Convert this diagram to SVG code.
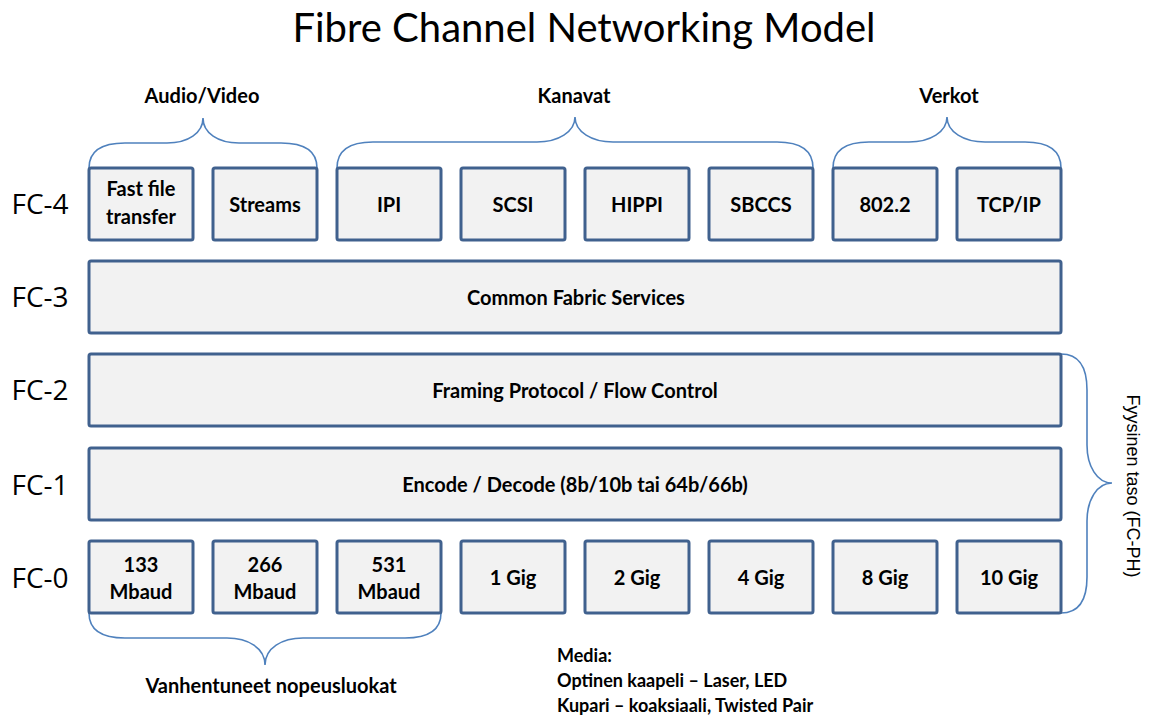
<svg xmlns="http://www.w3.org/2000/svg" width="1151" height="717" viewBox="0 0 1151 717">
<style>
.box{fill:#f2f2f2;stroke:#40618e;stroke-width:3}
.brace{fill:none;stroke:#4f81bd;stroke-width:1.6}
.t{font-family:Lato,"Liberation Sans",sans-serif;font-weight:bold;font-size:20px;fill:#000;text-anchor:middle}
.lay{font-family:"Open Sans","Liberation Sans",sans-serif;font-size:28px;fill:#000;text-anchor:middle}
.title{font-family:Lato,"Liberation Sans",sans-serif;font-size:40px;fill:#000;text-anchor:middle}
.side{font-family:"Liberation Sans",sans-serif;font-size:18px;fill:#000;text-anchor:middle}
.media{font-family:Lato,"Liberation Sans",sans-serif;font-weight:bold;font-size:18px;fill:#000}
</style>
<rect width="1151" height="717" fill="#ffffff"/>
<text class="title" x="584" y="42">Fibre Channel Networking Model</text>
<g id="layer-labels">
<text class="lay" x="40" y="214">FC-4</text>
<text class="lay" x="40" y="307">FC-3</text>
<text class="lay" x="40" y="400">FC-2</text>
<text class="lay" x="40" y="495">FC-1</text>
<text class="lay" x="40" y="588">FC-0</text>
</g>
<g id="connectors">
<path class="brace" d="M89,168 C89,150 102,143 125,143 L167,143 C188,143 203,133 203,118 C203,133 218,143 239,143 L281,143 C304,143 317,150 317,168"/>
<path class="brace" d="M337,168 C337,150 350,142 373,142 L537,142 C558,142 575,132 575,117 C575,132 592,142 613,142 L777,142 C800,142 813,150 813,168"/>
<path class="brace" d="M833,168 C833,150 846,142 869,142 L909,142 C930,142 947,132 947,117 C947,132 964,142 985,142 L1025,142 C1048,142 1061,150 1061,168"/>
<path class="brace" d="M89,613 C89,631 102,638 125,638 L227,638 C248,638 265,648 265,665 C265,648 282,638 303,638 L405,638 C428,638 441,631 441,613"/>
<path class="brace" d="M1061,354 C1079,354 1087,367 1087,390 L1087,445 C1087,466 1097,483 1112,483 C1097,483 1087,500 1087,521 L1087,577 C1087,600 1079,613 1061,613"/>
</g>
<g id="brace-labels">
<text class="t" x="202" y="103">Audio/Video</text>
<text class="t" x="574" y="103">Kanavat</text>
<text class="t" x="949" y="103">Verkot</text>
<text class="t" x="271" y="693">Vanhentuneet nopeusluokat</text>
<text class="side" transform="translate(1127,486) rotate(90)">Fyysinen taso (FC-PH)</text>
</g>
<g id="fc4-fastfile"><rect class="box" x="89" y="168" width="104" height="72" rx="2"/><text class="t" x="141" y="196">Fast file</text><text class="t" x="141" y="224">transfer</text></g>
<g id="fc4-streams"><rect class="box" x="213" y="168" width="104" height="72" rx="2"/><text class="t" x="265" y="212">Streams</text></g>
<g id="fc4-ipi"><rect class="box" x="337" y="168" width="104" height="72" rx="2"/><text class="t" x="389" y="212">IPI</text></g>
<g id="fc4-scsi"><rect class="box" x="461" y="168" width="104" height="72" rx="2"/><text class="t" x="513" y="212">SCSI</text></g>
<g id="fc4-hippi"><rect class="box" x="585" y="168" width="104" height="72" rx="2"/><text class="t" x="637" y="212">HIPPI</text></g>
<g id="fc4-sbccs"><rect class="box" x="709" y="168" width="104" height="72" rx="2"/><text class="t" x="761" y="212">SBCCS</text></g>
<g id="fc4-8022"><rect class="box" x="833" y="168" width="104" height="72" rx="2"/><text class="t" x="885" y="212">802.2</text></g>
<g id="fc4-tcpip"><rect class="box" x="957" y="168" width="104" height="72" rx="2"/><text class="t" x="1009" y="212">TCP/IP</text></g>
<g id="fc3"><rect class="box" x="89" y="261" width="972" height="72" rx="2"/><text class="t" x="576" y="305">Common Fabric Services</text></g>
<g id="fc2"><rect class="box" x="89" y="354" width="972" height="72" rx="2"/><text class="t" x="575" y="398">Framing Protocol / Flow Control</text></g>
<g id="fc1"><rect class="box" x="89" y="448" width="972" height="72" rx="2"/><text class="t" x="575" y="492">Encode / Decode (8b/10b tai 64b/66b)</text></g>
<g id="fc0-133"><rect class="box" x="89" y="541" width="104" height="72" rx="2"/><text class="t" x="141" y="572">133</text><text class="t" x="141" y="599">Mbaud</text></g>
<g id="fc0-266"><rect class="box" x="213" y="541" width="104" height="72" rx="2"/><text class="t" x="265" y="572">266</text><text class="t" x="265" y="599">Mbaud</text></g>
<g id="fc0-531"><rect class="box" x="337" y="541" width="104" height="72" rx="2"/><text class="t" x="389" y="572">531</text><text class="t" x="389" y="599">Mbaud</text></g>
<g id="fc0-1g"><rect class="box" x="461" y="541" width="104" height="72" rx="2"/><text class="t" x="513" y="585">1 Gig</text></g>
<g id="fc0-2g"><rect class="box" x="585" y="541" width="104" height="72" rx="2"/><text class="t" x="637" y="585">2 Gig</text></g>
<g id="fc0-4g"><rect class="box" x="709" y="541" width="104" height="72" rx="2"/><text class="t" x="761" y="585">4 Gig</text></g>
<g id="fc0-8g"><rect class="box" x="833" y="541" width="104" height="72" rx="2"/><text class="t" x="885" y="585">8 Gig</text></g>
<g id="fc0-10g"><rect class="box" x="957" y="541" width="104" height="72" rx="2"/><text class="t" x="1009" y="585">10 Gig</text></g>
<g id="media">
<text class="media" x="557" y="662">Media:</text>
<text class="media" x="557" y="687">Optinen kaapeli – Laser, LED</text>
<text class="media" x="557" y="712">Kupari – koaksiaali, Twisted Pair</text>
</g>
</svg>
